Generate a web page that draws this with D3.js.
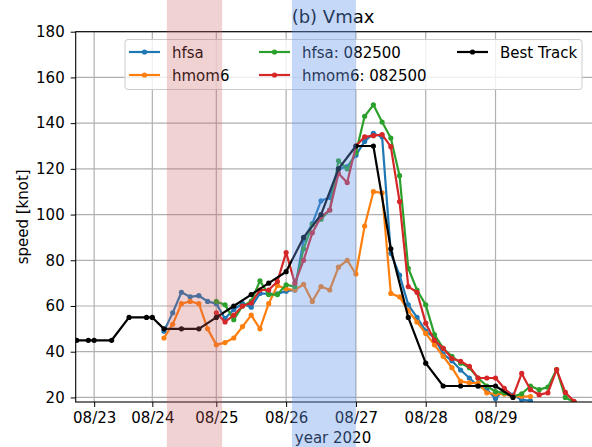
<!DOCTYPE html>
<html>
<head>
<meta charset="utf-8">
<script src="https://cdn.jsdelivr.net/npm/d3@7"></script>
<style>
  body { margin: 0; background: #fff; }
  svg { font-family: "DejaVu Sans", sans-serif; }
</style>
</head>
<body>
<svg id="chart" width="592" height="447"></svg>
<script>

// all times are hours since 2020-08-23 00Z
let tickHours = [6, 26, 48, 72, 96, 120, 144];
let tickLabels = ["08/23", "08/24", "08/25", "08/26", "08/27", "08/28", "08/29"];
let yTicks = [20, 40, 60, 80, 100, 120, 140, 160, 180];

let trackHours = [0, 4, 6, 12, 18, 24, 26, 30, 36, 42, 48, 54, 60, 66, 72, 78, 84, 90, 96, 102, 108, 114, 120, 126, 132, 138, 144, 150];
let trackVmax  = [45, 45, 45, 45, 55, 55, 55, 50, 50, 50, 55, 60, 65, 70, 75, 90, 100, 120, 130, 130, 85, 55, 35, 25, 25, 25, 25, 20];

// runs started 08/24 06Z
let hours0824 = [30, 33, 36, 39, 42, 45, 48, 51, 54, 57, 60, 63, 66, 69, 72, 75, 78, 81, 84, 87, 90, 93, 96, 99, 102, 105, 108, 111, 114, 117, 120, 123, 126, 129, 132, 135, 138, 141, 144, 147, 150, 153, 156];
let hfsaVmax  = [49, 57, 66, 64, 64.5, 62, 61, 54.5, 58.5, 61, 59.5, 65.5, 65.3, 65.3, 66.5, 67, 89, 96, 106, 107.5, 120, 121, 126, 132, 135.5, 134, 83, 73.5, 60.5, 55, 49, 46, 39, 36, 32, 28.5, 25, 23.5, 19.5, 23.5, 21, 19, 18.5];
let hmom6Vmax = [46, 52, 61, 62, 61, 50, 43, 44, 46, 51, 56, 50, 61, 69, 67.5, 67, 69.5, 62, 68.5, 67, 77, 80, 74, 95, 110, 109.5, 65.5, 64, 58, 53, 48, 43, 38, 33, 27, 26.4, 26.3, 22, 21.5, 21.5, 20.5, 20.5, 20.4];

// runs started 08/25 00Z
let hours0825 = [48, 51, 54, 57, 60, 63, 66, 69, 72, 75, 78, 81, 84, 87, 90, 93, 96, 99, 102, 105, 108, 111, 114, 117, 120, 123, 126, 129, 132, 135, 138, 141, 144, 147, 150, 153, 156, 159, 162, 165, 168, 171, 174];
let hfsa0825Vmax  = [62, 60.5, 54, 60, 62, 71, 65, 65, 69.3, 68.5, 85, 95.5, 98, 102, 123.5, 120, 127, 143, 148, 140.5, 133.5, 117, 76.5, 67, 60.5, 47.5, 41.5, 38, 35, 33, 28.5, 25, 22.5, 22, 20.4, 21.6, 25, 23.4, 24.5, 32.2, 20, 18, 15];
let hmom60825Vmax = [57, 53, 56, 60, 61.3, 67, 67, 70.7, 83.4, 70, 80, 92, 99, 102, 118, 114, 130, 134, 134.5, 135, 129.7, 105.7, 68.5, 66, 52.5, 45, 41.5, 37, 35.8, 33.6, 28.5, 28.5, 28.5, 24, 20.4, 30.5, 23.4, 21.2, 22, 32.2, 22.2, 18.3, 15];

// shaded periods
let bandStart = [31, 74];
let bandEnd   = [50, 96];
let bandColor = ["#cd5c5c", "#6495ed"];
let bandAlpha = [0.28, 0.37];

let series = [
  { name: "hfsa",          hours: hours0824, vals: hfsaVmax,      color: "#1f77b4" },
  { name: "hmom6",         hours: hours0824, vals: hmom6Vmax,     color: "#ff7f0e" },
  { name: "hfsa: 082500",  hours: hours0825, vals: hfsa0825Vmax,  color: "#2ca02c" },
  { name: "hmom6: 082500", hours: hours0825, vals: hmom60825Vmax, color: "#d62728" },
  { name: "Best Track",    hours: trackHours, vals: trackVmax,    color: "#000000" }
];

let W = 592, H = 447;
// the right spine sits just outside the picture
let pLeft = 75.7, pRight = 595, pTop = 31.7, pBottom = 402;

let svg = d3.select("#chart");

let x = d3.scaleLinear().domain([-0.35, 178.2]).range([pLeft, pRight]);
let y = d3.scaleLinear().domain([18, 180]).range([pBottom, pTop]);

// grid
svg.append("g").selectAll("line")
  .data(tickHours).enter().append("line")
  .attr("x1", d => x(d)).attr("x2", d => x(d))
  .attr("y1", pTop).attr("y2", pBottom)
  .attr("stroke", "#b0b0b0").attr("stroke-width", 1.2);

svg.append("g").selectAll("line")
  .data(yTicks).enter().append("line")
  .attr("x1", pLeft).attr("x2", pRight)
  .attr("y1", d => y(d)).attr("y2", d => y(d))
  .attr("stroke", "#b0b0b0").attr("stroke-width", 1.2);

svg.append("clipPath").attr("id", "plotclip")
  .append("rect").attr("x", pLeft).attr("y", pTop)
  .attr("width", pRight - pLeft).attr("height", pBottom - pTop);

let plot = svg.append("g").attr("clip-path", "url(#plotclip)");

let line = d3.line()
  .x(d => x(d[0]))
  .y(d => y(d[1]));

series.forEach(function(s) {
  let pts = s.hours.map((h, i) => [h, s.vals[i]]);
  plot.append("path")
    .datum(pts)
    .attr("d", line)
    .attr("fill", "none")
    .attr("stroke", s.color)
    .attr("stroke-width", 2.2)
    .attr("stroke-linejoin", "round");
  plot.append("g").selectAll("circle")
    .data(pts).enter().append("circle")
    .attr("cx", d => x(d[0]))
    .attr("cy", d => y(d[1]))
    .attr("r", 2.6)
    .attr("fill", s.color);
});

// axes
let xAxis = d3.axisBottom(x).tickValues(tickHours)
  .tickFormat((d, i) => tickLabels[i]).tickSize(5).tickPadding(5);
let yAxis = d3.axisLeft(y).tickValues(yTicks).tickSize(5).tickPadding(6);

let gx = svg.append("g").attr("transform", "translate(0," + pBottom + ")").call(xAxis);
let gy = svg.append("g").attr("transform", "translate(" + pLeft + ",0)").call(yAxis);
[gx, gy].forEach(function(g) {
  g.select(".domain").remove();
  g.selectAll("text").attr("font-size", 15).attr("fill", "#000").attr("font-family", "DejaVu Sans");
  g.selectAll("line").attr("stroke", "#000").attr("stroke-width", 1);
});

svg.append("rect")
  .attr("x", pLeft).attr("y", pTop)
  .attr("width", pRight - pLeft).attr("height", pBottom - pTop)
  .attr("fill", "none").attr("stroke", "#000").attr("stroke-width", 1.1);

// labels
svg.append("text").attr("x", 333).attr("y", 23)
  .attr("text-anchor", "middle").attr("font-size", 18).text("(b) Vmax");
svg.append("text").attr("x", 333).attr("y", 443)
  .attr("text-anchor", "middle").attr("font-size", 15).text("year 2020");
svg.append("text")
  .attr("transform", "translate(28," + ((pTop + pBottom) / 2) + ") rotate(-90)")
  .attr("text-anchor", "middle").attr("font-size", 15).text("speed [knot]");

// legend
let leg = svg.append("g");
leg.append("rect")
  .attr("x", 125).attr("y", 39.5).attr("width", 457).attr("height", 50)
  .attr("rx", 3).attr("fill", "#fff").attr("fill-opacity", 0.8)
  .attr("stroke", "#cccccc").attr("stroke-width", 1);

let legX = [129, 129, 259, 259, 457];
let legY = [52, 75, 52, 75, 52];
series.forEach(function(s, i) {
  leg.append("line")
    .attr("x1", legX[i]).attr("x2", legX[i] + 31)
    .attr("y1", legY[i]).attr("y2", legY[i])
    .attr("stroke", s.color).attr("stroke-width", 2.2);
  leg.append("circle")
    .attr("cx", legX[i] + 15.5).attr("cy", legY[i]).attr("r", 2.6)
    .attr("fill", s.color);
  leg.append("text")
    .attr("x", legX[i] + 43).attr("y", legY[i] + 5.5)
    .attr("font-size", 15).text(s.name);
});

// shaded periods, drawn over the whole figure
svg.append("g").selectAll("rect")
  .data(bandStart).enter().append("rect")
  .attr("x", d => x(d))
  .attr("width", (d, i) => x(bandEnd[i]) - x(d))
  .attr("y", 0).attr("height", H)
  .attr("fill", (d, i) => bandColor[i])
  .attr("fill-opacity", (d, i) => bandAlpha[i]);

</script>
</body>
</html>
